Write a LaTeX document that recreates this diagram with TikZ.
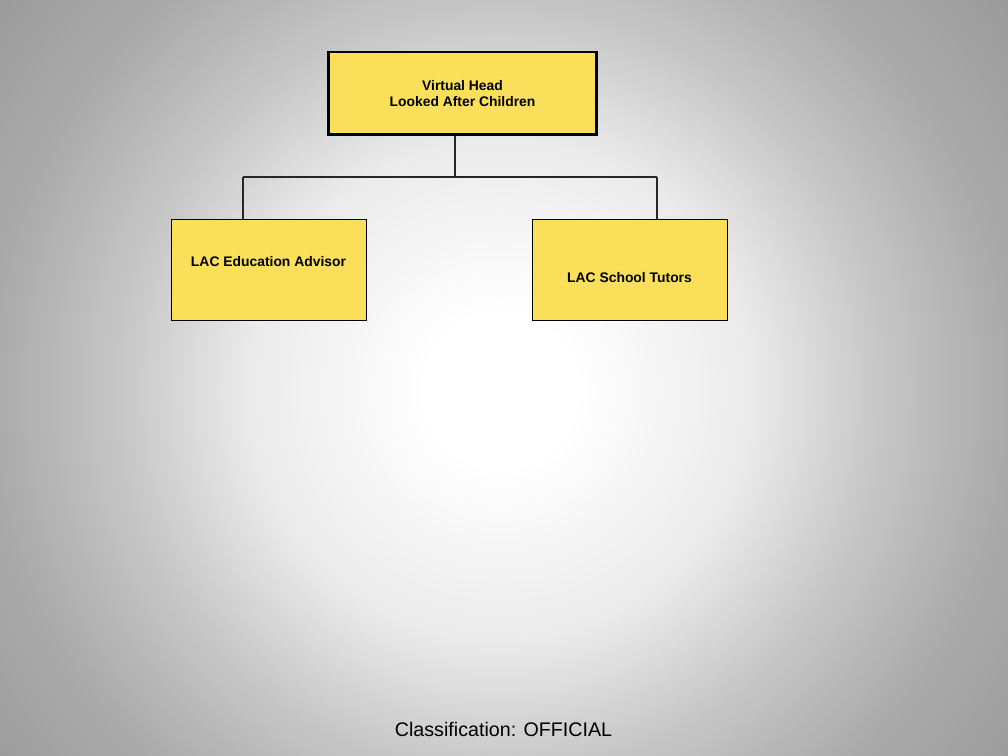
\documentclass[tikz,border=0pt]{standalone}
\usepackage{fontspec}
\setmainfont{Liberation Sans}
\usepackage{tikz}
\usepackage{xcolor}
\definecolor{yellowbox}{RGB}{250, 223, 90}
\pgfdeclareradialshading{slideback}{\pgfpoint{0bp}{0bp}}{%
  color(0bp)=(white); color(3bp)=(white); color(10bp)=(black!8);
  color(15bp)=(black!22); color(20bp)=(black!33); color(25bp)=(black!39); color(36bp)=(black!45)}

\begin{document}
\begin{tikzpicture}[x=0.02cm, y=-0.02cm,
    box/.style={draw=black, fill=yellowbox, line width=0.5pt, align=center,
      font=\bfseries\fontsize{7.9}{9.6}\selectfont, inner sep=0pt},
    headbox/.style={box, line width=1.7pt, minimum width=5.38cm, minimum height=1.66cm},
    childbox/.style={box, minimum width=3.9cm, minimum height=2.02cm},
    boxtext/.style={font=\bfseries\fontsize{7.9}{9.6}\selectfont, inner sep=0pt},
    link/.style={draw=black!85, line width=0.6pt}]
    \useasboundingbox (0,0) rectangle (1008,756);
    \begin{scope}
      \clip (0,0) rectangle (1008,756);
      \shade[shading=slideback] (-130,-240) rectangle (1130,1020);
    \end{scope}
    \node[headbox] (head) at (462.5,93.5) {Virtual Head\\Looked After Children};
    \node[childbox, label={[boxtext, yshift=0.15cm]center:LAC Education Advisor}] (adv) at (268.5,269.5) {};
    \node[childbox, label={[boxtext, yshift=-0.17cm]center:LAC School Tutors}] (tut) at (629.5,269.5) {};
    \coordinate (bus) at (455,177);
    \coordinate (jl) at (243,177);
    \coordinate (jr) at (657,177);
    \draw[link] (head.south -| bus) -- (bus);
    \draw[link] (jl) -- (jr);
    \draw[link] (jl) -- (jl |- adv.north);
    \draw[link] (jr) -- (jr |- tut.north);
    \node[font=\fontsize{11.2}{13}\selectfont] (clas) at (503.5,729) {Classification: OFFICIAL};
\end{tikzpicture}
\end{document}
